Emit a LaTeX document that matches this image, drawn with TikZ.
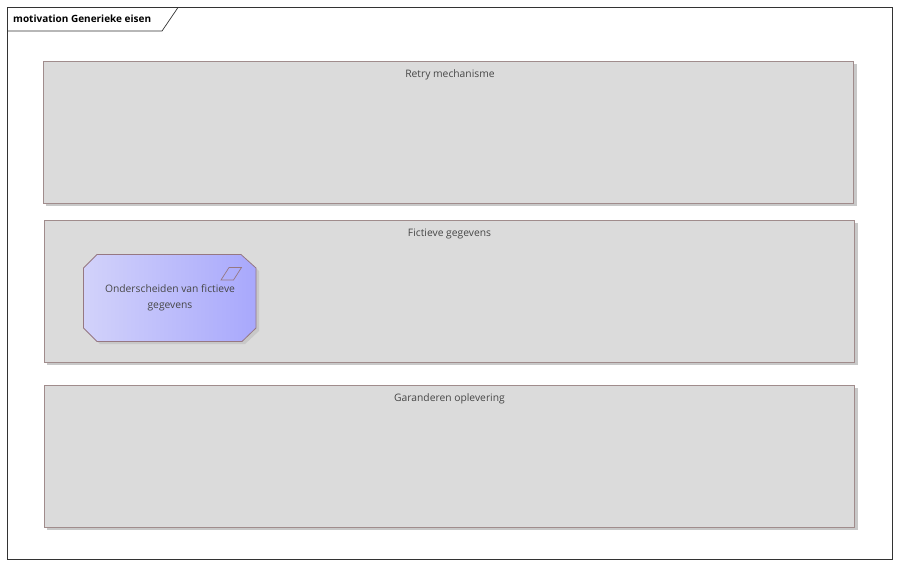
\documentclass[tikz,border=0pt]{standalone}
\usepackage{fontspec}
\setmainfont{Open Sans}
\usetikzlibrary{shadings}
\definecolor{boxfill}{RGB}{219,219,219}
\definecolor{boxline}{RGB}{160,140,140}
\definecolor{shadowc}{RGB}{200,200,200}
\definecolor{textc}{RGB}{70,70,70}
\definecolor{goalL}{RGB}{210,210,250}
\definecolor{goalR}{RGB}{168,168,252}
\definecolor{goalline}{RGB}{150,120,130}
\tikzset{
  grp/.style={draw=boxline, fill=boxfill, line width=0.8pt},
  grpshadow/.style={fill=shadowc, draw=none},
  lbl/.style={font=\fontsize{10.3}{12}\selectfont, text=textc, anchor=north, inner sep=0pt},
}
\begin{document}
\begin{tikzpicture}[x=1pt,y=-1pt]
\useasboundingbox (0,0) rectangle (900,566);
% frame
\draw[line width=0.7pt, draw=black!80] (7.5,7.5) rectangle (892.5,559.5);
\coordinate (t0) at (7.5,31);
\draw[line width=0.7pt, draw=black!80] (t0) -- (162,31) -- (178,7.5);
\node[anchor=west, font=\fontsize{10}{12}\selectfont\bfseries, inner sep=0pt] (title) at (13,19) {motivation Generieke eisen};
% groups
\fill[grpshadow] (46,64) rectangle (857,206);
\draw[grp] (43.5,61.5) rectangle (853.5,203.5);
\node[lbl] (g1) at (450,69.5) {Retry mechanisme};
\fill[grpshadow] (47,223) rectangle (858,365);
\draw[grp] (44.5,220.5) rectangle (854.5,362.5);
\node[lbl] (g2) at (449.5,228.5) {Fictieve gegevens};
\fill[grpshadow] (47,388) rectangle (858,530);
\draw[grp] (44.5,385.5) rectangle (854.5,527.5);
\node[lbl] (g3) at (449.5,393.5) {Garanderen oplevering};
% goal node
\fill[shadowc] (100,257) -- (244,257) -- (259,271) -- (259,331) -- (245,344) -- (100,344) -- (86,331) -- (86,271) -- cycle;
\shade[left color=goalL, right color=goalR, draw=goalline, line width=0.8pt]
  (97,254.5) -- (241,254.5) -- (256,268) -- (256,328) -- (242,341.5) -- (97,341.5) -- (83.5,328) -- (83.5,268) -- cycle;
\draw[goalline, line width=0.7pt] (221,280) -- (229,267.5) -- (241.5,267.5) -- (233.5,280) -- cycle;
\node[font=\fontsize{10.3}{16}\selectfont, text=textc, align=center] (goal) at (170,298) {Onderscheiden van fictieve\\gegevens};
\end{tikzpicture}
\end{document}
